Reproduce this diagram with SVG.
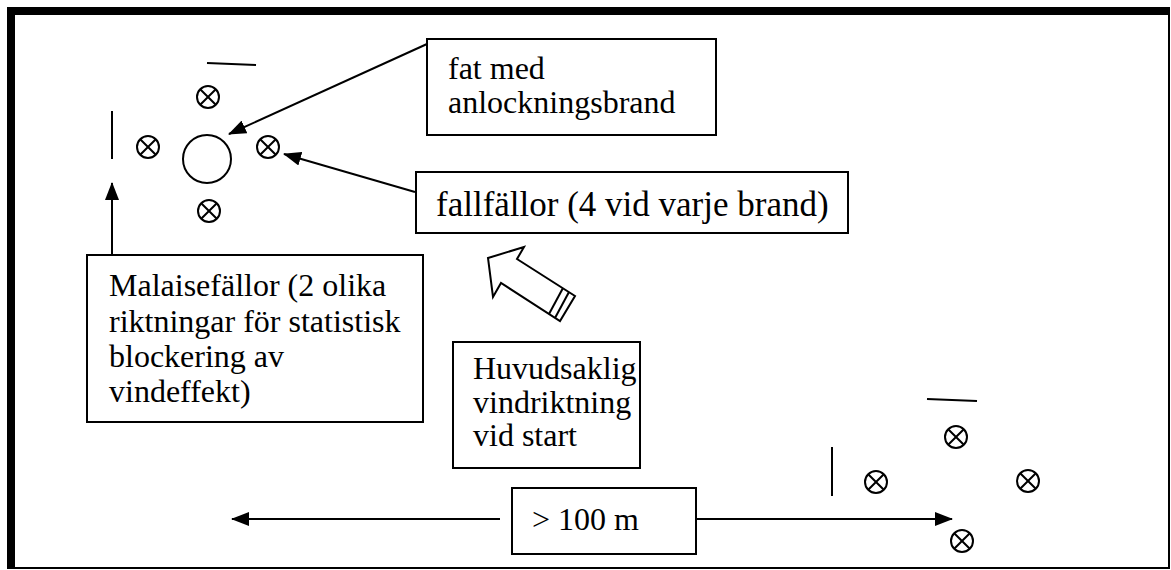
<svg xmlns="http://www.w3.org/2000/svg" width="1171" height="570" viewBox="0 0 1171 570">
<style>
.box{fill:#fff;stroke:#000;stroke-width:2}
.t{font-family:'Liberation Serif',Tinos,'Times New Roman','DejaVu Serif',serif;font-size:32px;fill:#000}
.ln{stroke:#000;stroke-width:2;fill:none}
.xc{fill:#fff;stroke:#000;stroke-width:2}
.xl{stroke:#000;stroke-width:2;fill:none}
</style>
<defs>
<marker id="ah" markerWidth="18" markerHeight="14" refX="17" refY="7" orient="auto" markerUnits="userSpaceOnUse" viewBox="0 0 18 14">
<path d="M0,0 L18,7 L0,14 Z" fill="#000"/>
</marker>
<g id="x"><circle class="xc" r="11"/><path class="xl" d="M-7.8,-7.8 L7.8,7.8 M7.8,-7.8 L-7.8,7.8"/></g>
</defs>
<rect x="0" y="0" width="1171" height="570" fill="#fff"/>
<path d="M7,7 H1170 V569 H7 Z M15,15 V567 H1168 V15 Z" fill="#000" fill-rule="evenodd"/>

<g id="site1">
<line class="ln" x1="207" y1="63" x2="256" y2="65"/>
<line class="ln" x1="112" y1="111" x2="112" y2="159"/>
<circle cx="207" cy="159" r="24" fill="#fff" stroke="#000" stroke-width="2"/>
<use href="#x" x="208" y="97"/>
<use href="#x" x="148" y="147"/>
<use href="#x" x="268" y="147"/>
<use href="#x" x="209" y="211"/>
</g>

<g id="site2">
<line class="ln" x1="927" y1="399" x2="977" y2="401"/>
<line class="ln" x1="832" y1="447" x2="832" y2="496"/>
<use href="#x" x="956" y="437"/>
<use href="#x" x="876" y="482"/>
<use href="#x" x="1028" y="481"/>
<use href="#x" x="962" y="541"/>
</g>

<g id="wind-arrow">
<path d="M488,258 L524,247 L517,259 L575,296 L560,321 L501,283 L493,297 Z" fill="#fff" stroke="#000" stroke-width="2" stroke-linejoin="miter"/>
<line class="ln" x1="563" y1="288" x2="549" y2="314"/>
<line class="ln" x1="569" y1="292" x2="555" y2="318"/>
</g>

<g id="connectors">
<line class="ln" x1="427" y1="44" x2="229" y2="134" marker-end="url(#ah)"/>
<line class="ln" x1="415" y1="192" x2="284" y2="154" marker-end="url(#ah)"/>
<line class="ln" x1="112" y1="255" x2="112" y2="183" marker-end="url(#ah)"/>
<line class="ln" x1="500" y1="519" x2="232" y2="519" marker-end="url(#ah)"/>
<line class="ln" x1="688" y1="519" x2="952" y2="519" marker-end="url(#ah)"/>
</g>

<g id="box-fat">
<rect class="box" x="427" y="39" width="289" height="96"/>
<text class="t" x="448" y="79">fat med</text>
<text class="t" x="448" y="113">anlockningsbrand</text>
</g>

<g id="box-fallfallor">
<rect class="box" x="416" y="172" width="432" height="61"/>
<text class="t" x="436" y="216" style="font-size:35px">fallfällor (4 vid varje brand)</text>
</g>

<g id="box-malaise">
<rect class="box" x="87" y="255" width="336" height="167"/>
<text class="t" x="109" y="296">Malaisefällor (2 olika</text>
<text class="t" x="109" y="332">riktningar för statistisk</text>
<text class="t" x="109" y="367">blockering av</text>
<text class="t" x="109" y="402">vindeffekt)</text>
</g>

<g id="box-vind">
<rect class="box" x="453" y="342" width="187" height="126"/>
<text class="t" x="473" y="379">Huvudsaklig</text>
<text class="t" x="473" y="413">vindriktning</text>
<text class="t" x="473" y="446">vid start</text>
</g>

<g id="box-dist">
<rect class="box" x="512" y="488" width="184" height="66"/>
<text class="t" x="532" y="530">&gt; 100 m</text>
</g>
</svg>
